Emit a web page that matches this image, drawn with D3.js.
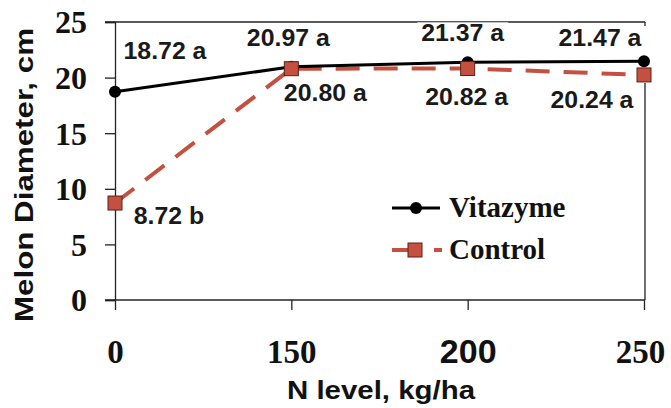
<!DOCTYPE html>
<html>
<head>
<meta charset="utf-8">
<script src="https://cdn.jsdelivr.net/npm/d3@7"></script>
<style>
  body { margin: 0; background: #fff; }
  svg { display: block; }
  .sans { font-family: "Liberation Sans", Arial, sans-serif; font-weight: bold; }
  .serif { font-family: "Liberation Serif", "Times New Roman", serif; font-weight: bold; }
</style>
</head>
<body>
<script>
// N level categories (evenly spaced in the original)
var nLevels = ["0", "150", "200", "250"];
var vitazyme = [18.72, 20.97, 21.37, 21.47];
var control = [8.72, 20.80, 20.82, 20.24];
var vitLetters = ["a", "a", "a", "a"];
var ctlLetters = ["b", "a", "a", "a"];
var yTicks = [0, 5, 10, 15, 20, 25];

var W = 671, H = 408;
var pLeft = 115, pRight = 644, pTop = 22, pBottom = 300;
var red = "#c4503f";

var svg = d3.select("body").append("svg").attr("width", W).attr("height", H);

var x = d3.scalePoint().domain(nLevels).range([pLeft, pRight]).padding(0);
var y = d3.scaleLinear().domain([0, 25]).range([pBottom, pTop]);

// frame: top line and partial right border
svg.append("line").attr("x1", pLeft - 10).attr("x2", pRight + 1).attr("y1", pTop).attr("y2", pTop)
    .attr("stroke", "#222").attr("stroke-width", 1.3);
svg.append("line").attr("x1", pRight + 1).attr("x2", pRight + 1).attr("y1", pTop).attr("y2", pTop + 4)
    .attr("stroke", "#222").attr("stroke-width", 1.3);
svg.append("line").attr("x1", pRight + 1).attr("x2", pRight + 1).attr("y1", y(20.24) + 8).attr("y2", pBottom)
    .attr("stroke", "#222").attr("stroke-width", 1.3);

// y axis
var yAxis = svg.append("g").attr("transform", "translate(" + pLeft + ",0)")
    .call(d3.axisLeft(y).tickValues(yTicks).tickSize(10).tickPadding(18));
yAxis.selectAll("text").attr("class", "serif").attr("font-size", 32).attr("fill", "#111")
    .attr("dy", "0.34em");

// x axis
var xAxis = svg.append("g").attr("transform", "translate(0," + pBottom + ")")
    .call(d3.axisBottom(x).tickSize(10).tickPadding(36));
xAxis.selectAll("text").attr("class", function (d) { return d === "200" ? "sans" : "serif"; })
    .attr("font-size", function (d) { return d === "200" ? 34 : 33; })
    .attr("fill", "#111").attr("dy", "0.5em")
    .attr("dx", function (d) { return d === "250" ? -4 : 0; });
xAxis.select(".domain").attr("d", "M" + (pLeft - 10) + ",0H" + (pRight + 1));

svg.selectAll(".domain, .tick line").attr("stroke", "#222").attr("stroke-width", 1.3);

// lines
var line = d3.line().x(function (d, i) { return x(nLevels[i]); }).y(function (d) { return y(d); });

svg.append("path").datum(control).attr("d", line).attr("fill", "none")
    .attr("stroke", red).attr("stroke-width", 4).attr("stroke-dasharray", "24,14");
svg.append("path").datum(vitazyme).attr("d", line).attr("fill", "none")
    .attr("stroke", "#000").attr("stroke-width", 3);

svg.selectAll(".vdot").data(vitazyme).enter().append("circle")
    .attr("cx", function (d, i) { return x(nLevels[i]); })
    .attr("cy", function (d) { return y(d); })
    .attr("r", 6).attr("fill", "#000");

svg.selectAll(".csq").data(control).enter().append("rect")
    .attr("x", function (d, i) { return x(nLevels[i]) - 7; })
    .attr("y", function (d) { return y(d) - 7; })
    .attr("width", 14).attr("height", 14)
    .attr("fill", red).attr("stroke", "#5a2018").attr("stroke-width", 1);

// data labels (offsets from point: dx, dy to baseline centre)
var vitOff = [[50, -33], [-3, -21], [-5, -21], [-44, -15]];
var ctlOff = [[54, 21], [34, 32], [-1, 37], [-52, 33]];

function addLabels(vals, letters, off) {
    vals.forEach(function (v, i) {
        var g = svg.append("g");
        var t = g.append("text").attr("class", "sans").attr("font-size", 23)
            .attr("text-anchor", "middle").attr("fill", "#1a1a1a")
            .attr("x", x(nLevels[i]) + off[i][0]).attr("y", y(v) + off[i][1])
            .text(v.toFixed(2) + " " + letters[i]);
        // original labels are a bit wider than Liberation Sans
        var w = t.node().getComputedTextLength();
        t.attr("textLength", w * 1.08).attr("lengthAdjust", "spacingAndGlyphs");
        var b = t.node().getBBox();
        g.insert("rect", "text").attr("x", b.x - 4).attr("y", b.y + 2)
            .attr("width", b.width + 8).attr("height", b.height - 4).attr("fill", "#fff");
    });
}
addLabels(vitazyme, vitLetters, vitOff);
addLabels(control, ctlLetters, ctlOff);

// legend
var lg = svg.append("g");
lg.append("line").attr("x1", 392).attr("x2", 440).attr("y1", 208).attr("y2", 208)
    .attr("stroke", "#000").attr("stroke-width", 3);
lg.append("circle").attr("cx", 416).attr("cy", 208).attr("r", 6).attr("fill", "#000");
lg.append("text").attr("class", "serif").attr("font-size", 29).attr("x", 449).attr("y", 217)
    .attr("fill", "#111").text("Vitazyme");
lg.append("line").attr("x1", 392).attr("x2", 412).attr("y1", 250).attr("y2", 250)
    .attr("stroke", red).attr("stroke-width", 4);
lg.append("line").attr("x1", 434).attr("x2", 442).attr("y1", 250).attr("y2", 250)
    .attr("stroke", red).attr("stroke-width", 4);
lg.append("rect").attr("x", 408).attr("y", 243).attr("width", 14).attr("height", 14)
    .attr("fill", red).attr("stroke", "#5a2018").attr("stroke-width", 1);
lg.append("text").attr("class", "serif").attr("font-size", 29).attr("x", 449).attr("y", 259)
    .attr("fill", "#111").text("Control");

// axis titles
svg.append("text").attr("class", "sans").attr("font-size", 26)
    .attr("transform", "translate(33,175) rotate(-90)").attr("text-anchor", "middle")
    .attr("textLength", 294).attr("lengthAdjust", "spacingAndGlyphs")
    .attr("fill", "#111").text("Melon Diameter, cm");
svg.append("text").attr("class", "sans").attr("font-size", 26)
    .attr("x", 381).attr("y", 399).attr("text-anchor", "middle")
    .attr("textLength", 188).attr("lengthAdjust", "spacingAndGlyphs")
    .attr("fill", "#111").text("N level, kg/ha");
</script>
</body>
</html>
